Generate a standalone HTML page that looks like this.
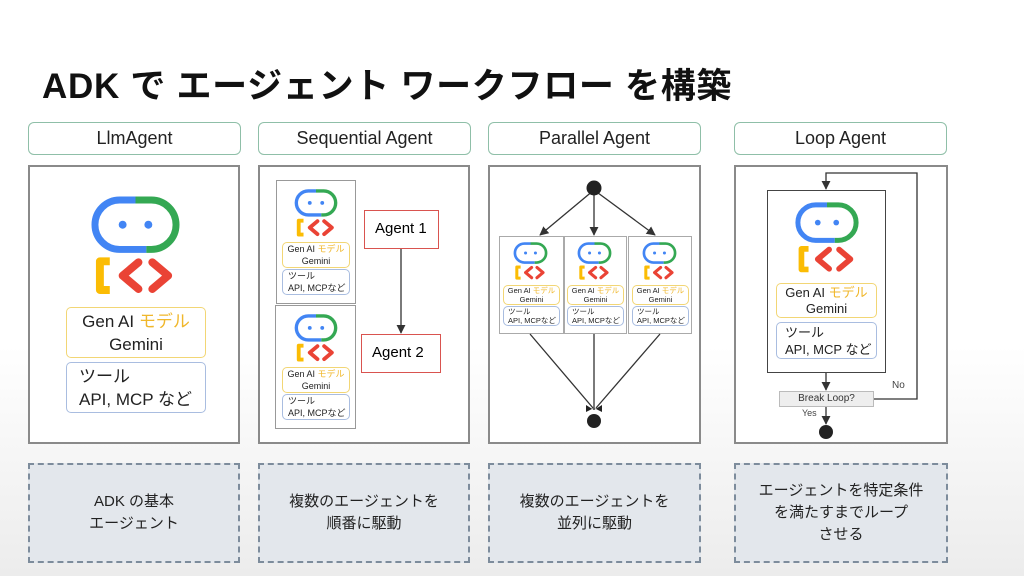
<!DOCTYPE html>
<html><head><meta charset="utf-8"><style>
body{margin:0;width:1024px;height:576px;overflow:hidden;position:relative;font-family:"Liberation Sans","Noto Sans CJK JP",sans-serif;background:linear-gradient(#fff 0%,#fff 60%,#ececec 100%);}
.a{position:absolute;box-sizing:border-box}
.t{left:42px;top:58px;font-size:35px;font-weight:bold;color:#111;white-space:nowrap;letter-spacing:0.7px}
.h{top:122px;height:33px;border:1.5px solid #8fbfa8;border-radius:6px;text-align:center;line-height:30px;font-size:18px;color:#222;background:#fff}
.p{top:165px;height:279px;border:2px solid #8a8a8a;background:#fff}
.b{top:463px;height:100px;border:2px dashed #7d8c9c;background:#e3e7ec;display:flex;align-items:center;justify-content:center;text-align:center;font-size:15px;line-height:22px;color:#222}
.g{border:1.5px solid #f2d675;border-radius:5px;text-align:center;color:#222;background:#fff}
.u{border:1.5px solid #a9bde0;border-radius:5px;color:#222;background:#fff}
.y{color:#f0b72b}
</style></head><body>
<svg width="0" height="0" style="position:absolute"><defs>
<symbol id="r" viewBox="0 0 90 100">
<path d="M45 4 H29 A25 25 0 0 0 29 54 H56" fill="none" stroke="#4285f4" stroke-width="7"/>
<path d="M45 4 H61 A25 25 0 0 1 61 54 H56" fill="none" stroke="#34a853" stroke-width="7"/>
<circle cx="32" cy="29" r="4" fill="#4285f4"/><circle cx="58" cy="29" r="4" fill="#4285f4"/>
<path d="M19 66 H9 V95 H19" fill="none" stroke="#fbbc04" stroke-width="8" stroke-linejoin="round"/>
<path d="M48 67 L32 80.5 L48 94 M62 67 L78 80.5 L62 94" fill="none" stroke="#ea4335" stroke-width="8" stroke-linecap="round" stroke-linejoin="round"/>
</symbol>
<marker id="m" viewBox="0 0 10 10" refX="9" refY="5" markerWidth="7" markerHeight="7" orient="auto"><path d="M0 0 L10 5 L0 10z" fill="#333"/></marker>
</defs></svg>

<div class="a t">ADK で エージェント ワークフロー を構築</div>

<div class="a h" style="left:28px;width:213px">LlmAgent</div>
<div class="a h" style="left:258px;width:213px">Sequential Agent</div>
<div class="a h" style="left:488px;width:213px">Parallel Agent</div>
<div class="a h" style="left:734px;width:213px">Loop Agent</div>

<div class="a p" style="left:28px;width:212px"></div>
<div class="a p" style="left:258px;width:212px"></div>
<div class="a p" style="left:488px;width:213px"></div>
<div class="a p" style="left:734px;width:214px"></div>

<!-- Panel 1 -->
<svg class="a" style="left:91px;top:196px" width="89" height="99"><use href="#r"/></svg>
<div class="a g" style="left:66px;top:307px;width:140px;height:51px;font-size:17px;line-height:23px;padding-top:2px">Gen AI <span class="y">モデル</span><br>Gemini</div>
<div class="a u" style="left:66px;top:362px;width:140px;height:51px;font-size:17px;line-height:23px;padding:2px 0 0 12px">ツール<br>API, MCP など</div>

<!-- Panel 2 -->
<div class="a" style="left:276px;top:180px;width:80px;height:124px;border:1px solid #999;background:#fff"></div>
<div class="a" style="left:275px;top:305px;width:81px;height:124px;border:1px solid #999;background:#fff"></div>
<svg class="a" style="left:294px;top:189px" width="44" height="48"><use href="#r"/></svg>
<div class="a g" style="left:282px;top:242px;width:68px;height:26px;font-size:9px;line-height:12px">Gen AI <span class="y">モデル</span><br>Gemini</div>
<div class="a u" style="left:282px;top:269px;width:68px;height:26px;font-size:9px;line-height:12px;padding-left:5px">ツール<br>API, MCPなど</div>
<svg class="a" style="left:294px;top:314px" width="44" height="48"><use href="#r"/></svg>
<div class="a g" style="left:282px;top:367px;width:68px;height:26px;font-size:9px;line-height:12px">Gen AI <span class="y">モデル</span><br>Gemini</div>
<div class="a u" style="left:282px;top:394px;width:68px;height:26px;font-size:9px;line-height:12px;padding-left:5px">ツール<br>API, MCPなど</div>
<div class="a" style="left:364px;top:210px;width:75px;height:39px;border:1.5px solid #d9534f;background:#fff;font-size:15px;line-height:36px;padding-left:10px">Agent 1</div>
<div class="a" style="left:361px;top:334px;width:80px;height:39px;border:1.5px solid #d9534f;background:#fff;font-size:15px;line-height:36px;padding-left:10px">Agent 2</div>

<!-- Panel 3 boxes -->
<div class="a" style="left:499px;top:236px;width:65px;height:98px;border:1px solid #aaa;background:#fff"></div>
<div class="a" style="left:564px;top:236px;width:63px;height:98px;border:1px solid #aaa;background:#fff"></div>
<div class="a" style="left:628px;top:236px;width:64px;height:98px;border:1px solid #aaa;background:#fff"></div>
<svg class="a" style="left:513px;top:242px" width="35" height="38"><use href="#r"/></svg>
<svg class="a" style="left:577px;top:242px" width="35" height="38"><use href="#r"/></svg>
<svg class="a" style="left:642px;top:242px" width="35" height="38"><use href="#r"/></svg>
<div class="a g" style="left:503px;top:285px;width:57px;height:20px;font-size:7.5px;line-height:9px">Gen AI <span class="y">モデル</span><br>Gemini</div>
<div class="a u" style="left:503px;top:306px;width:57px;height:20px;font-size:7.5px;line-height:9px;padding-left:4px">ツール<br>API, MCPなど</div>
<div class="a g" style="left:567px;top:285px;width:57px;height:20px;font-size:7.5px;line-height:9px">Gen AI <span class="y">モデル</span><br>Gemini</div>
<div class="a u" style="left:567px;top:306px;width:57px;height:20px;font-size:7.5px;line-height:9px;padding-left:4px">ツール<br>API, MCPなど</div>
<div class="a g" style="left:632px;top:285px;width:57px;height:20px;font-size:7.5px;line-height:9px">Gen AI <span class="y">モデル</span><br>Gemini</div>
<div class="a u" style="left:632px;top:306px;width:57px;height:20px;font-size:7.5px;line-height:9px;padding-left:4px">ツール<br>API, MCPなど</div>

<!-- Panel 4 -->
<div class="a" style="left:767px;top:190px;width:119px;height:183px;border:1.5px solid #444;background:#fff"></div>
<svg class="a" style="left:795px;top:202px" width="64" height="71"><use href="#r"/></svg>
<div class="a g" style="left:776px;top:283px;width:101px;height:35px;font-size:13px;line-height:16px;padding-top:1px">Gen AI <span class="y">モデル</span><br>Gemini</div>
<div class="a u" style="left:776px;top:322px;width:101px;height:37px;font-size:13px;line-height:17px;padding:1px 0 0 8px">ツール<br>API, MCP など</div>
<div class="a" style="left:779px;top:391px;width:95px;height:16px;border:1px solid #bbb;background:#eee;font-size:10px;line-height:14px;text-align:center;color:#333">Break Loop?</div>
<div class="a" style="left:802px;top:408px;font-size:9px;color:#444">Yes</div>
<div class="a" style="left:892px;top:380px;font-size:10px;color:#444">No</div>

<svg class="a" style="left:0;top:0" width="1024" height="576">
<g stroke="#333" stroke-width="1.3" fill="none">
<line x1="401" y1="249" x2="401" y2="333" marker-end="url(#m)"/>
<line x1="594" y1="190" x2="540" y2="235" marker-end="url(#m)"/>
<line x1="594" y1="190" x2="594" y2="235" marker-end="url(#m)"/>
<line x1="594" y1="190" x2="655" y2="235" marker-end="url(#m)"/>
<line x1="530" y1="334" x2="593" y2="408"/>
<line x1="594" y1="334" x2="594" y2="408"/>
<line x1="660" y1="334" x2="596" y2="408"/>
<line x1="826" y1="373" x2="826" y2="390" marker-end="url(#m)"/>
<line x1="826" y1="407" x2="826" y2="424" marker-end="url(#m)"/>
<polyline points="874,399 917,399 917,173 826,173 826,189" marker-end="url(#m)"/>
</g>
<circle cx="594" cy="188" r="7.5" fill="#222"/>
<path d="M586 405 L594 410 L602 405 L602 412 L594 408 L586 412z" fill="#222"/>
<circle cx="594" cy="421" r="7" fill="#222"/>
<circle cx="826" cy="432" r="7" fill="#222"/>
</svg>

<div class="a b" style="left:28px;width:212px">ADK の基本<br>エージェント</div>
<div class="a b" style="left:258px;width:212px">複数のエージェントを<br>順番に駆動</div>
<div class="a b" style="left:488px;width:213px">複数のエージェントを<br>並列に駆動</div>
<div class="a b" style="left:734px;width:214px">エージェントを特定条件<br>を満たすまでループ<br>させる</div>
</body></html>
